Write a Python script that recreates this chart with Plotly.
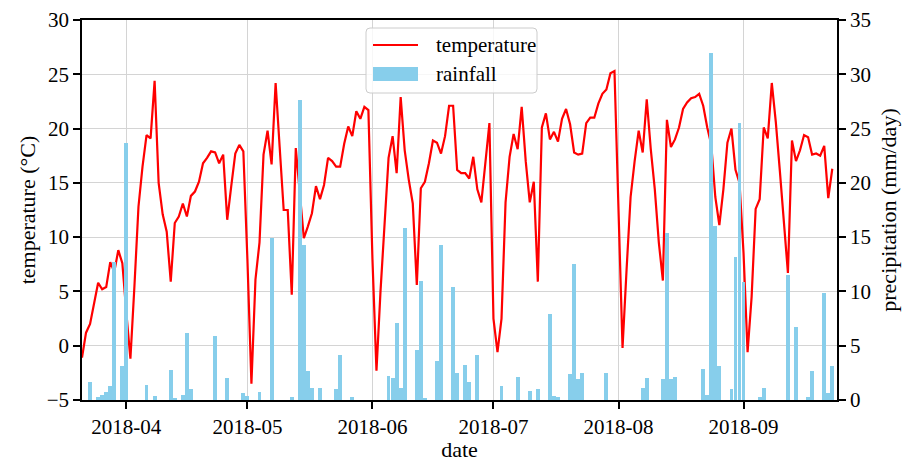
import pandas as pd
import plotly.graph_objects as go

start_date = "2018-03-21"

temperature = [
    -1.1, 1.2, 2.0, 4.0, 5.8, 5.2, 5.4, 7.7, 6.8, 8.8,
    7.6, 3.0, -1.2, 5.5, 12.8, 16.5, 19.4, 19.1, 24.4, 15.0,
    12.1, 10.5, 5.9, 11.3, 11.9, 13.1, 11.9, 13.8, 14.2, 15.1,
    16.8, 17.3, 17.9, 17.8, 16.8, 17.6, 11.6, 14.7, 17.7, 18.5,
    17.9, 8.0, -3.5, 6.1, 9.5, 17.6, 19.8, 16.7, 24.2, 18.3,
    12.5, 12.5, 4.7, 18.2, 14.0, 9.9, 11.0, 12.2, 14.7, 13.5,
    14.8, 17.3, 17.0, 16.5, 16.5, 18.6, 20.2, 19.3, 21.6, 20.9,
    22.0, 21.7, 8.0, -2.3, 5.0, 11.5, 17.3, 19.3, 15.9, 22.9,
    18.0, 15.3, 13.1, 5.6, 14.5, 15.1, 16.8, 18.9, 18.7, 17.7,
    19.3, 22.1, 22.1, 16.2, 15.9, 15.9, 15.4, 17.4, 14.4, 13.2,
    16.8, 20.5, 2.5, -0.6, 2.5, 13.2, 17.4, 19.5, 18.1, 22.0,
    17.0, 13.2, 15.1, 5.9, 20.1, 21.4, 19.0, 19.7, 18.8, 20.9,
    21.8, 20.4, 17.8, 17.6, 17.7, 20.5, 21.0, 21.0, 22.3, 23.2,
    23.6, 25.1, 25.3, 12.5, -0.2, 7.0, 13.7, 17.0, 19.8, 17.8,
    22.7, 18.1, 14.4, 9.5, 6.0, 20.8, 18.3, 19.0, 20.1, 21.8,
    22.4, 22.8, 22.9, 23.2, 22.1, 20.1, 18.5, 13.7, 11.1, 14.4,
    18.7, 20.0, 16.2, 15.0, 8.5, -0.6, 4.5, 12.6, 13.5, 20.1,
    19.1, 24.2, 20.6, 16.1, 11.6, 6.7, 18.9, 17.0, 18.0, 19.4,
    19.2, 17.6, 17.7, 17.5, 18.4, 13.6, 16.3,
]

rainfall = [
    0, 0, 1.65, 0, 0.3, 0.5, 0.7, 1.3, 12.7, 0,
    3.1, 23.7, 0, 0, 0, 0, 1.35, 0, 0.4, 0,
    0, 0, 2.75, 0.2, 0, 0.5, 6.2, 1.0, 0, 0,
    0, 0, 0, 5.9, 0, 0, 2.05, 0, 0, 0,
    0.6, 0.4, 0, 0, 0.7, 0, 0, 14.9, 0, 0,
    0, 0, 0.3, 0, 27.6, 14.3, 2.7, 1.1, 0, 1.1,
    0, 0, 0, 1.0, 4.1, 0, 0, 0.3, 0, 0,
    0, 0, 0, 0, 0, 0, 2.2, 2.0, 7.1, 1.1,
    15.8, 0, 0, 4.65, 11.0, 0.2, 0, 0, 3.6, 14.3,
    0, 0, 10.4, 2.45, 0, 3.2, 1.65, 0, 4.1, 0,
    0, 0, 0, 0, 1.3, 0, 0, 0, 2.1, 0,
    0, 0.8, 0, 1.05, 0, 0, 7.9, 0.4, 0.3, 0,
    0, 2.35, 12.5, 1.95, 2.45, 0, 0, 0, 0, 0,
    2.5, 0, 0, 0, 0, 0, 0, 0, 0, 1.1,
    2.05, 0, 0, 0, 1.9, 15.4, 1.9, 2.1, 0, 0,
    0, 0, 0, 0, 2.9, 0.5, 32.0, 16.0, 3.1, 0,
    0, 1.0, 13.2, 25.5, 10.9, 0, 0, 0, 0.3, 1.1,
    0, 0, 0, 0, 0, 11.5, 0, 6.7, 0, 0,
    0.3, 2.7, 0, 0, 9.9, 0.6, 3.1,
]

month_ticks = ["2018-04-01", "2018-05-01", "2018-06-01", "2018-07-01", "2018-08-01", "2018-09-01"]
month_labels = ["2018-04", "2018-05", "2018-06", "2018-07", "2018-08", "2018-09"]
x_range = ["2018-03-21", "2018-09-24 04:00"]

dates = pd.date_range(start_date, periods=len(temperature), freq="D")

FONT = "Liberation Serif, Times New Roman, serif"
GRID = "#d4d4d4"

fig = go.Figure()
fig.add_trace(go.Scatter(
    x=dates, y=temperature, mode="lines", name="temperature",
    line=dict(color="red", width=2.2), yaxis="y", showlegend=False,
))
fig.add_trace(go.Bar(
    x=dates, y=rainfall, name="rainfall", marker=dict(color="skyblue", line=dict(width=0)),
    width=86400000 * 0.95, yaxis="y2", showlegend=False,
))

fig.update_layout(
    width=903, height=462,
    margin=dict(l=82, r=66, t=20, b=62, autoexpand=False),
    paper_bgcolor="white", plot_bgcolor="white",
    font=dict(family=FONT, size=21, color="black"),
    bargap=0,
    xaxis=dict(
        range=x_range, tickvals=month_ticks, ticktext=month_labels,
        showgrid=True, gridcolor=GRID, gridwidth=1.3,
        showline=True, linecolor="black", linewidth=1.5, mirror=True,
        ticks="outside", ticklen=7, tickwidth=1.5, tickcolor="black",
        tickfont=dict(size=21), zeroline=False, automargin=False,
        title=dict(text="date", font=dict(size=22), standoff=8),
    ),
    yaxis=dict(
        range=[-5, 30], dtick=5, tick0=-5,
        showgrid=True, gridcolor=GRID, gridwidth=1.3,
        showline=True, linecolor="black", linewidth=1.5,
        ticks="outside", ticklen=7, tickwidth=1.5, tickcolor="black",
        tickfont=dict(size=21), zeroline=False, automargin=False,
        title=dict(text="temperature (°C)", font=dict(size=22), standoff=5),
    ),
    yaxis2=dict(
        range=[0, 35], dtick=5, overlaying="y", side="right",
        showgrid=False, zeroline=False, automargin=False,
        showline=True, linecolor="black", linewidth=1.5,
        ticks="outside", ticklen=7, tickwidth=1.5, tickcolor="black",
        tickfont=dict(size=21),
        title=dict(text="precipitation (mm/day)", font=dict(size=22), standoff=11),
    ),
)

# matplotlib-style legend box (paper coordinates of the plot area)
PW, PH = 755.0, 380.0
def px_to_paper(px, py):
    return (px - 82) / PW, (400 - py) / PH

x0, y0 = px_to_paper(366, 93)
x1, y1 = px_to_paper(537, 28)
rx, ry = 4 / PW, 4 / PH
path = (f"M {x0+rx},{y0} L {x1-rx},{y0} Q {x1},{y0} {x1},{y0+ry} "
        f"L {x1},{y1-ry} Q {x1},{y1} {x1-rx},{y1} L {x0+rx},{y1} "
        f"Q {x0},{y1} {x0},{y1-ry} L {x0},{y0+ry} Q {x0},{y0} {x0+rx},{y0} Z")
fig.add_shape(type="path", path=path, xref="paper", yref="paper",
              fillcolor="rgba(255,255,255,0.8)", line=dict(color="#cccccc", width=1), layer="above")

lx0, _ = px_to_paper(373, 0)
lx1, _ = px_to_paper(418, 0)
_, ly = px_to_paper(0, 45)
fig.add_shape(type="line", x0=lx0, x1=lx1, y0=ly, y1=ly, xref="paper", yref="paper",
              line=dict(color="red", width=2.2), layer="above")
_, py0 = px_to_paper(0, 81)
_, py1 = px_to_paper(0, 67)
fig.add_shape(type="rect", x0=lx0, x1=lx1, y0=py0, y1=py1, xref="paper", yref="paper",
              fillcolor="skyblue", line=dict(width=0), layer="above")
tx, _ = px_to_paper(434, 0)
_, ty2 = px_to_paper(0, 74)
fig.add_annotation(x=tx, y=ly, xref="paper", yref="paper", text="temperature",
                   showarrow=False, xanchor="left", yanchor="middle", font=dict(size=21))
fig.add_annotation(x=tx, y=ty2, xref="paper", yref="paper", text="rainfall",
                   showarrow=False, xanchor="left", yanchor="middle", font=dict(size=21))

fig.write_html("out.html")
